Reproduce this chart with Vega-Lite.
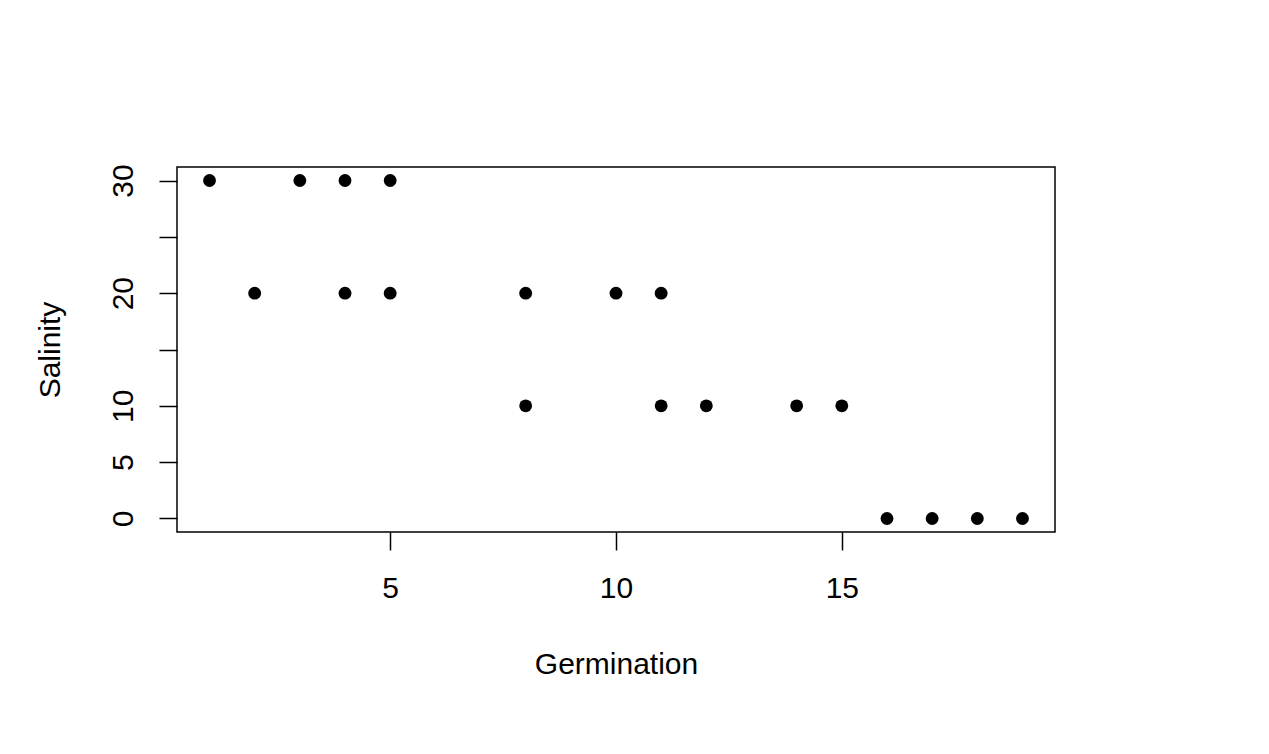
{
  "$schema": "https://vega.github.io/schema/vega-lite/v6.json",
  "autosize": "none",
  "width": 878,
  "height": 365,
  "padding": {"left": 177, "top": 167, "right": 214, "bottom": 222},
  "background": "white",
  "config": {
    "view": {"stroke": "#000000", "strokeWidth": 1.5},
    "font": "Liberation Sans"
  },
  "data": {
    "values": [
      {"Germination": 1, "Salinity": 30},
      {"Germination": 2, "Salinity": 20},
      {"Germination": 3, "Salinity": 30},
      {"Germination": 4, "Salinity": 30},
      {"Germination": 4, "Salinity": 20},
      {"Germination": 5, "Salinity": 30},
      {"Germination": 5, "Salinity": 20},
      {"Germination": 8, "Salinity": 20},
      {"Germination": 8, "Salinity": 10},
      {"Germination": 10, "Salinity": 20},
      {"Germination": 11, "Salinity": 20},
      {"Germination": 11, "Salinity": 10},
      {"Germination": 12, "Salinity": 10},
      {"Germination": 14, "Salinity": 10},
      {"Germination": 15, "Salinity": 10},
      {"Germination": 16, "Salinity": 0},
      {"Germination": 17, "Salinity": 0},
      {"Germination": 18, "Salinity": 0},
      {"Germination": 19, "Salinity": 0}
    ]
  },
  "mark": {"type": "circle", "color": "#000000", "opacity": 1, "size": 165},
  "encoding": {
    "x": {
      "field": "Germination",
      "type": "quantitative",
      "scale": {"domain": [0.28, 19.72], "nice": false, "zero": false},
      "axis": {
        "values": [5, 10, 15],
        "grid": false,
        "domain": false,
        "tickSize": 18,
        "tickWidth": 1.5,
        "tickColor": "#000000",
        "labelFontSize": 30,
        "labelColor": "#000000",
        "labelPadding": 23,
        "labelFont": "Liberation Sans",
        "title": "Germination",
        "titleFont": "Liberation Sans",
        "titleFontSize": 30,
        "titleFontWeight": "normal",
        "titleColor": "#000000",
        "titleY": 132,
        "titleBaseline": "middle"
      }
    },
    "y": {
      "field": "Salinity",
      "type": "quantitative",
      "scale": {"domain": [-1.2, 31.2], "nice": false, "zero": false},
      "axis": {
        "values": [0, 5, 10, 15, 20, 25, 30],
        "labelExpr": "datum.value == 15 || datum.value == 25 ? '' : datum.label",
        "grid": false,
        "domain": false,
        "tickSize": 18,
        "tickWidth": 1.5,
        "tickColor": "#000000",
        "labelFontSize": 30,
        "labelColor": "#000000",
        "labelAngle": -90,
        "labelAlign": "center",
        "labelBaseline": "bottom",
        "labelPadding": 21,
        "labelFont": "Liberation Sans",
        "title": "Salinity",
        "titleFont": "Liberation Sans",
        "titleFontSize": 30,
        "titleFontWeight": "normal",
        "titleColor": "#000000",
        "titleX": -127,
        "titleY": 182.5,
        "titleAngle": -90,
        "titleAlign": "center",
        "titleBaseline": "middle"
      }
    }
  }
}
